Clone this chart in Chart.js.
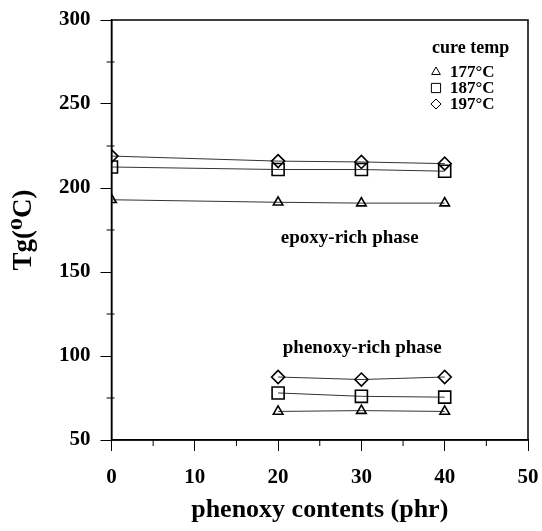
<!DOCTYPE html>
<html>
<head>
<meta charset="utf-8">
<script src="https://cdn.jsdelivr.net/npm/chart.js@4.4.0/dist/chart.umd.min.js"></script>
<style>
html,body{margin:0;padding:0;background:#fff;}
#wrap{width:542px;height:531px;}
</style>
</head>
<body>
<div id="wrap"><canvas id="c" width="542" height="531"></canvas></div>
<script>
// phenoxy contents (phr)
const epoxyX = [0, 20, 30, 40];
const phenoxyX = [20, 30, 40];
// Tg values, epoxy-rich phase
const epoxy177 = [193, 191.5, 191, 191];
const epoxy187 = [212.5, 211, 211, 210];
const epoxy197 = [219, 216, 215.5, 214.5];
// Tg values, phenoxy-rich phase
const phenoxy177 = [67, 67.5, 67];
const phenoxy187 = [78, 76, 75.5];
const phenoxy197 = [87.5, 86, 87.5];
const legendLabels = ['177\u00B0C', '187\u00B0C', '197\u00B0C'];
const xTicks = [0, 10, 20, 30, 40, 50];
const yTicks = [50, 100, 150, 200, 250, 300];
const xMinor = [5, 15, 25, 35, 45];
const yMinor = [75, 125, 175, 225, 275];

const SERIF = '"Liberation Serif","DejaVu Serif",serif';
const styles = ['triangle', 'rect', 'rectRot'];
const radii = [5.5, 8.5, 6.5];

function pts(xs, ys){ return xs.map((x,i)=>({x:x, y:ys[i]})); }
function ds(label, data, k){
  return {label, data, showLine:true, borderColor:'#333', borderWidth:1,
    pointStyle:styles[k], pointRadius:radii[k], pointBorderWidth:1.6,
    pointBorderColor:'#000', pointBackgroundColor:'rgba(0,0,0,0)', fill:false};
}
const datasets = [
  ds(legendLabels[0]+' epoxy', pts(epoxyX, epoxy177), 0),
  ds(legendLabels[1]+' epoxy', pts(epoxyX, epoxy187), 1),
  ds(legendLabels[2]+' epoxy', pts(epoxyX, epoxy197), 2),
  ds(legendLabels[0]+' phenoxy', pts(phenoxyX, phenoxy177), 0),
  ds(legendLabels[1]+' phenoxy', pts(phenoxyX, phenoxy187), 1),
  ds(legendLabels[2]+' phenoxy', pts(phenoxyX, phenoxy197), 2),
];

const extras = {
  id:'extras',
  afterDraw(chart){
    const ctx = chart.ctx, a = chart.chartArea;
    const xs = chart.scales.x, ys = chart.scales.y;
    ctx.save();
    ctx.strokeStyle = '#000';
    ctx.lineWidth = 1.5;
    ctx.strokeRect(a.left, a.top, a.right - a.left, a.bottom - a.top);
    ctx.lineWidth = 1;
    xMinor.forEach(v=>{const p = xs.getPixelForValue(v); ctx.beginPath(); ctx.moveTo(p, a.bottom); ctx.lineTo(p, a.bottom+6); ctx.stroke();});
    yMinor.forEach(v=>{const p = ys.getPixelForValue(v); ctx.beginPath(); ctx.moveTo(a.left-5, p); ctx.lineTo(a.left+3, p); ctx.stroke();});
    // annotations
    ctx.fillStyle = '#000';
    ctx.font = 'bold 19px ' + SERIF;
    ctx.textAlign = 'center'; ctx.textBaseline = 'middle';
    ctx.fillText('epoxy-rich phase', xs.getPixelForValue(28.6), ys.getPixelForValue(170));
    ctx.fillText('phenoxy-rich phase', xs.getPixelForValue(30.1), ys.getPixelForValue(105));
    // legend
    ctx.textAlign = 'left';
    ctx.font = 'bold 18px ' + SERIF;
    ctx.fillText('cure temp', 432, 48);
    ctx.font = 'bold 17px ' + SERIF;
    legendLabels.forEach((t,i)=>{
      const y = 72 + i*16;
      ctx.strokeStyle = '#000'; ctx.fillStyle = 'rgba(0,0,0,0)';
      Chart.helpers.drawPoint(ctx, {pointStyle:styles[i], radius:[5,6.5,5][i], borderWidth:1.2, rotation:0}, 436, y);
      ctx.fillStyle = '#000';
      ctx.fillText(t, 450, y+1);
    });
    ctx.restore();
  }
};

new Chart(document.getElementById('c'), {
  type:'scatter',
  data:{datasets},
  options:{
    responsive:false, animation:false,
    layout:{padding:{top:20, right:14, left:0, bottom:0}},
    plugins:{legend:{display:false}, tooltip:{enabled:false}},
    scales:{
      x:{type:'linear', min:0, max:50,
        afterBuildTicks(s){ s.ticks = xTicks.map(v=>({value:v})); },
        afterFit(s){ s.height = 91; s.paddingLeft = 0; s.paddingRight = 0; },
        ticks:{color:'#000', font:{family:SERIF, size:21, weight:'bold'}, padding:14},
        grid:{drawOnChartArea:false, tickLength:11, color:'#000', lineWidth:1},
        border:{color:'#000', width:1.5},
        title:{display:true, text:'phenoxy contents (phr)', color:'#000', font:{family:SERIF, size:26, weight:'bold'}, padding:{top:4, bottom:5}}
      },
      y:{type:'linear', min:50, max:300,
        afterBuildTicks(s){ s.ticks = yTicks.map(v=>({value:v})); },
        afterFit(s){ s.width = 111.5; s.paddingTop = 0; s.paddingBottom = 0; },
        ticks:{color:'#000', font:{family:SERIF, size:21, weight:'bold'}, padding:10},
        grid:{drawOnChartArea:false, tickLength:11, color:'#000', lineWidth:1},
        border:{color:'#000', width:1.5},
        title:{display:true, text:'Tg(\u2070C)', color:'#000', font:{family:SERIF, size:27, weight:'bold'}, padding:{top:8, bottom:0}}
      }
    }
  },
  plugins:[extras]
});
</script>
</body>
</html>
